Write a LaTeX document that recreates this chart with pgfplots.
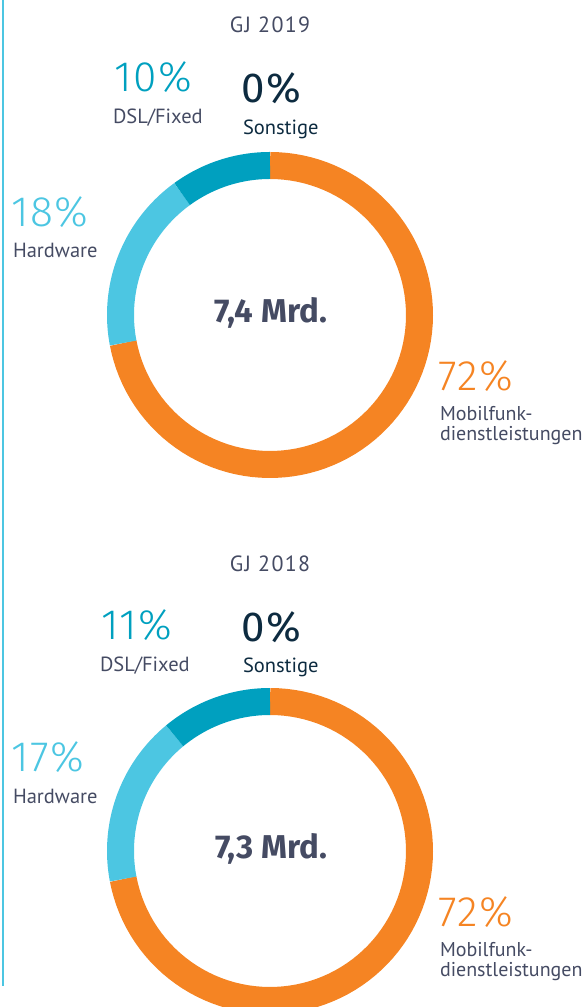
\documentclass[border=0pt]{standalone}
\usepackage{fontspec}
\setmainfont{PT Sans}
\newfontfamily\numfont{Fira Sans}[UprightFont={* Light}, LetterSpace=4]
\newfontfamily\zerofont{Fira Sans}[LetterSpace=6]
\newfontfamily\boldfont{Fira Sans}[UprightFont={* Bold}]
\usepackage{pgfplots}
\pgfplotsset{compat=1.18}

\definecolor{mobil}{HTML}{F58423}
\definecolor{hardw}{HTML}{4CC6E2}
\definecolor{dsl}{HTML}{00A0BF}
\definecolor{navy}{HTML}{0D2B40}
\definecolor{txt}{HTML}{454B63}

% one ring segment: cx, cy, start share, end share (in %), colour
\newcommand{\seg}[5]{%
  \addplot[draw=#5, line width=27pt, domain={90-3.6*#3}:{90-3.6*#4},
    samples=90, variable=\t] ({#1+149.5*cos(\t)}, {#2+149.5*sin(\t)});
}

\begin{document}
\begin{tikzpicture}
\begin{axis}[
    at={(0,0)}, anchor=south west,
    width=587pt, height=1007pt, scale only axis,
    xmin=0, xmax=587, ymin=0, ymax=1007,
    hide axis,
]
\addplot[draw=hardw, line width=2pt] coordinates {(3,1007) (3,21)};

% GJ 2019: Mobilfunk 72, Hardware 18, DSL/Fixed 10, Sonstige 0
\seg{270}{692}{0}{72}{mobil}
\seg{270}{692}{72}{90}{hardw}
\seg{270}{692}{90}{100}{dsl}

% GJ 2018: Mobilfunk 72, Hardware 17, DSL/Fixed 11, Sonstige 0
\seg{270}{156}{0}{72}{mobil}
\seg{270}{156}{72}{89}{hardw}
\seg{270}{156}{89}{100}{dsl}

\begin{scope}[every node/.style={inner sep=0pt, outer sep=0pt},
  head/.style={anchor=base, text=txt, font=\addfontfeature{LetterSpace=6}\fontsize{22}{24}\selectfont},
  lab/.style={anchor=base west, text=txt, font=\fontsize{20.5}{24}\selectfont},
  pct/.style={anchor=base west, font=\numfont\fontsize{42.5}{44}\selectfont},
  zero/.style={anchor=base west, text=navy, font=\zerofont\fontsize{42}{44}\selectfont},
  total/.style={anchor=base, text=txt, font=\boldfont\fontsize{33}{36}\selectfont}]
% 2019 labels
\node[head] at (axis cs:270,974) {GJ 2019};
\node[pct, text=dsl] at (axis cs:114,915) {10\%};
\node[lab] at (axis cs:113,883) {DSL/Fixed};
\node[zero] at (axis cs:241,904) {0\%};
\node[lab, text=navy] at (axis cs:243,872) {Sonstige};
\node[pct, text=hardw] at (axis cs:11,780) {18\%};
\node[lab] at (axis cs:13,749) {Hardware};
\node[total] at (axis cs:271,684) {7,4 Mrd.};
\node[pct, text=mobil] at (axis cs:438,616) {72\%};
\node[lab, font=\fontsize{20}{24}\selectfont] at (axis cs:440,586) {Mobilfunk-};
\node[lab, font=\fontsize{20}{24}\selectfont] at (axis cs:440,566) {dienstleistungen};

% 2018 labels
\node[head] at (axis cs:270,435) {GJ 2018};
\node[pct, text=dsl] at (axis cs:101,367) {11\%};
\node[lab] at (axis cs:100,335) {DSL/Fixed};
\node[zero] at (axis cs:241,365) {0\%};
\node[lab, text=navy] at (axis cs:243,334) {Sonstige};
\node[pct, text=hardw] at (axis cs:11,235) {17\%};
\node[lab] at (axis cs:13,203) {Hardware};
\node[total] at (axis cs:271,148) {7,3 Mrd.};
\node[pct, text=mobil] at (axis cs:438,80) {72\%};
\node[lab, font=\fontsize{20}{24}\selectfont] at (axis cs:440,50) {Mobilfunk-};
\node[lab, font=\fontsize{20}{24}\selectfont] at (axis cs:440,30) {dienstleistungen};
\end{scope}
\end{axis}
\pgfresetboundingbox
\path[use as bounding box] (0,0) rectangle (587pt,1007pt);
\end{tikzpicture}
\end{document}
